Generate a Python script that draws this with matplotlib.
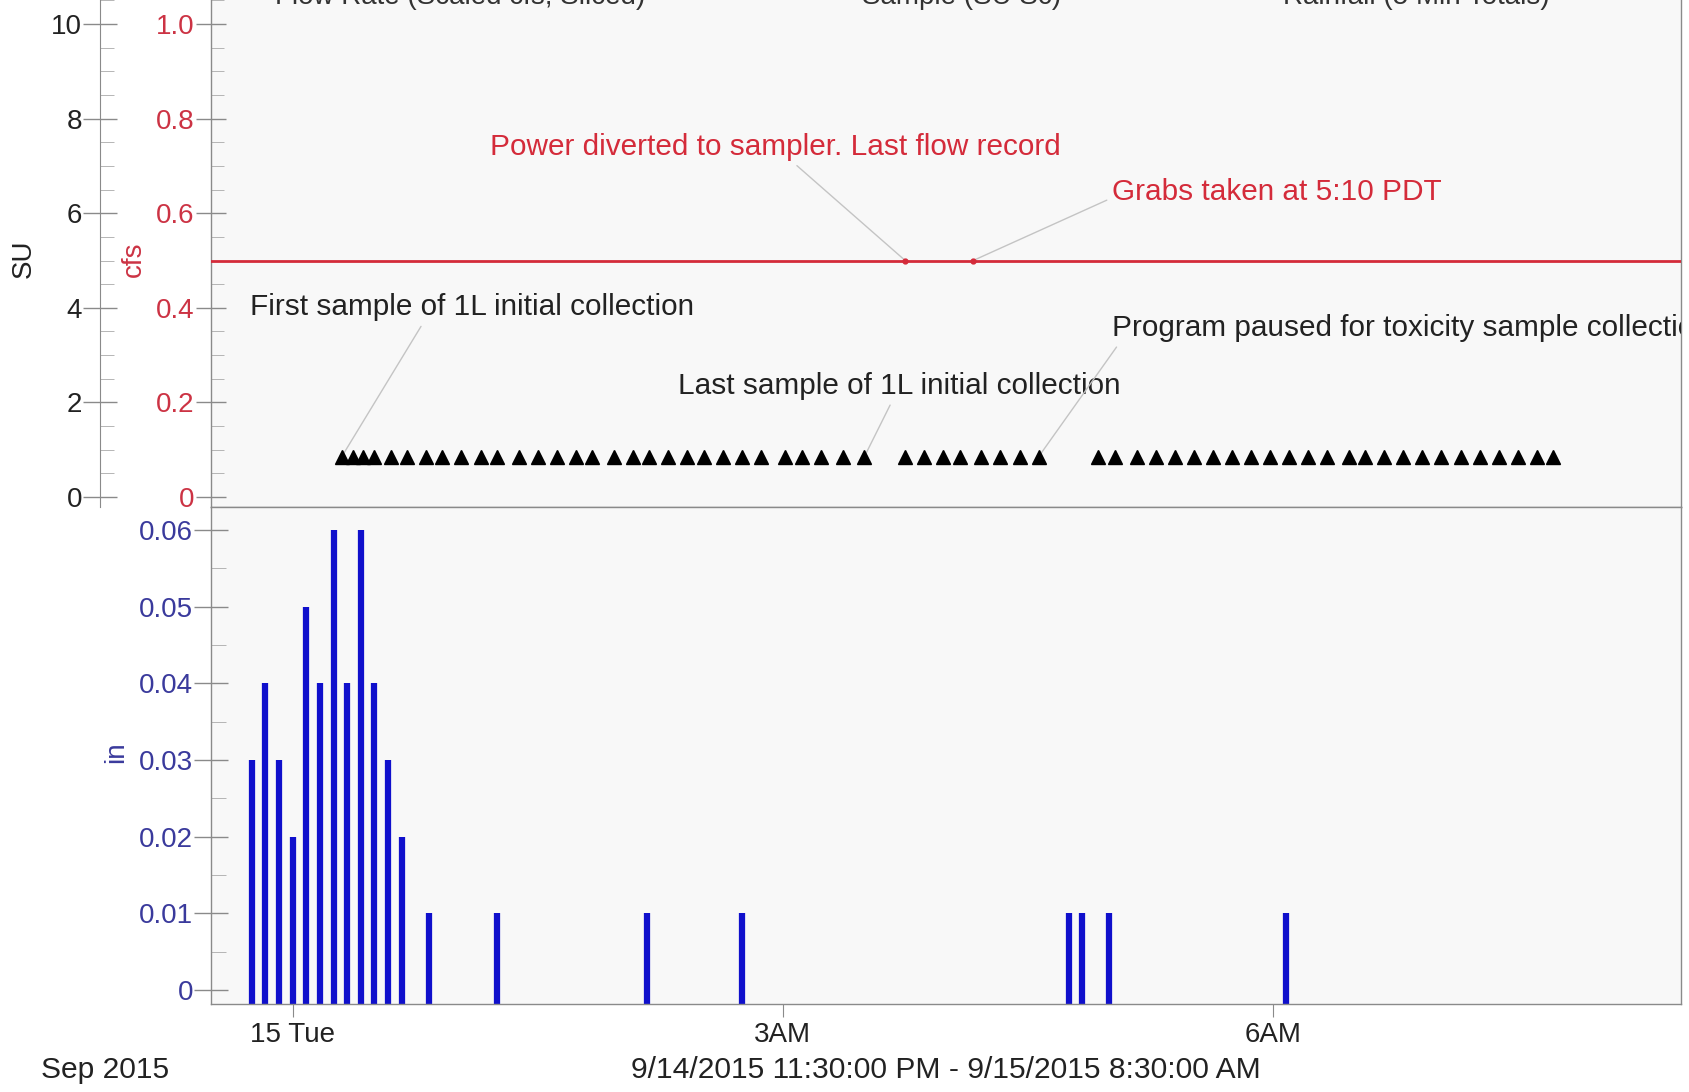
import matplotlib
matplotlib.use("Agg")
import matplotlib.pyplot as plt
import matplotlib.dates as mdates
from matplotlib.ticker import MultipleLocator, FixedLocator, FuncFormatter
import pandas as pd

plt.rcParams['font.family'] = ['Liberation Sans', 'DejaVu Sans']

# --- data (times are PDT, 9/14 evening -> 9/15 morning) ---
start = pd.Timestamp("2015-09-14 23:30")
end = pd.Timestamp("2015-09-15 08:30")

rain_times = ["23:45", "23:50", "23:55", "00:00", "00:05", "00:10", "00:15", "00:20",
              "00:25", "00:30", "00:35", "00:40", "00:50", "01:15", "02:10", "02:45",
              "04:45", "04:50", "05:00", "06:05"]
rain_in = [0.03, 0.04, 0.03, 0.02, 0.05, 0.04, 0.06, 0.04,
           0.06, 0.04, 0.03, 0.02, 0.01, 0.01, 0.01, 0.01,
           0.01, 0.01, 0.01, 0.01]

flow_times = ["23:30", "03:45", "04:10", "08:30"]
flow_cfs = [0.5, 0.5, 0.5, 0.5]
flow_marks = ["03:45", "04:10"]

sample_times = ["00:18", "00:22", "00:26", "00:30", "00:36", "00:42", "00:49", "00:55",
                "01:02", "01:09", "01:15", "01:23", "01:30", "01:37", "01:44", "01:50",
                "01:58", "02:05", "02:11", "02:18", "02:25", "02:31", "02:38", "02:45",
                "02:52", "03:01", "03:07", "03:14", "03:22", "03:30",
                "03:45", "03:52", "03:59", "04:05", "04:13", "04:20", "04:27", "04:34",
                "04:56", "05:02", "05:10", "05:17", "05:24", "05:31", "05:38", "05:45",
                "05:52", "05:59", "06:06", "06:13", "06:20", "06:28", "06:34", "06:41",
                "06:48", "06:55", "07:02", "07:09", "07:16", "07:23", "07:30", "07:37",
                "07:43"]
sample_su = 0.85

xtick_times = ["00:00", "03:00", "06:00"]


def stamp(hhmm):
    day = "2015-09-14" if int(hhmm[:2]) >= 12 else "2015-09-15"
    return pd.Timestamp(day + " " + hhmm).to_pydatetime()


def tnum(lst):
    return mdates.date2num([stamp(t) for t in lst])


RED = '#d42b3a'
BLUE = '#1010cc'
NAVY = '#3a3a9c'
GRAY = '#8a8a8a'
FS = 20
AFS = 21.4   # annotation text
FFS = 21.6   # footer text

W, H = 1690, 1092
fig = plt.figure(figsize=(W / 100, H / 100), dpi=100, facecolor='white')


def box(l, t, r, b):
    return [l / W, 1 - b / H, (r - l) / W, (b - t) / H]


ax_top = fig.add_axes(box(211, 0, 1681, 507), facecolor='#f8f8f8')
ax_su = fig.add_axes(box(211, 0, 1681, 507), sharex=ax_top)
ax_rain = fig.add_axes(box(211, 507, 1681, 1004), sharex=ax_top, facecolor='#f8f8f8')
ax_su.patch.set_visible(False)

# flow (cfs)
ax_top.plot(tnum(flow_times), flow_cfs, color=RED, lw=2, zorder=3)
ax_top.plot(tnum(flow_marks), [flow_cfs[1], flow_cfs[2]], 'o', color=RED, ms=3.5, zorder=4)
ax_top.set_ylim(-0.0211, 1.0507)
ax_top.set_xlim(mdates.date2num(start.to_pydatetime()), mdates.date2num(end.to_pydatetime()))

# samples on SU scale
sx = tnum(sample_times)
ax_su.plot(sx, [sample_su] * len(sx), '^', color='black', ms=10, ls='none', zorder=5)
ax_su.set_ylim(-0.211, 10.507)

# rainfall
rx = tnum(rain_times)
ax_rain.set_ylim(-0.00183, 0.063)
ax_rain.vlines(rx, ax_rain.get_ylim()[0], rain_in, color=BLUE, lw=4.5)

# --- spines / ticks ---
for a in (ax_top, ax_rain):
    for s in a.spines.values():
        s.set_color(GRAY)
        s.set_linewidth(1)
ax_top.spines['top'].set_visible(False)
for s in ('top', 'right', 'bottom'):
    ax_su.spines[s].set_visible(False)
ax_su.spines['left'].set_position(('outward', 111 * 0.72))
ax_su.spines['left'].set_color(GRAY)

ax_top.yaxis.set_major_locator(MultipleLocator(0.2))
ax_top.yaxis.set_minor_locator(MultipleLocator(0.05))
ax_top.yaxis.set_major_formatter(FuncFormatter(lambda v, p: '0' if abs(v) < 1e-9 else f'{v:.1f}'))
ax_top.tick_params(axis='y', which='major', direction='inout', length=22, width=1,
                   color=GRAY, labelcolor='#cc3344', labelsize=FS, pad=1)
ax_top.tick_params(axis='y', which='minor', direction='in', length=9, color='#aaaaaa')
ax_top.tick_params(axis='x', which='both', bottom=False, labelbottom=False)

ax_su.yaxis.set_major_locator(MultipleLocator(2))
ax_su.yaxis.set_minor_locator(MultipleLocator(0.5))
ax_su.tick_params(axis='y', which='major', direction='inout', length=24, width=1,
                  color=GRAY, labelcolor='#222222', labelsize=FS, pad=1)
ax_su.tick_params(axis='y', which='minor', direction='in', length=10, color='#aaaaaa')
ax_su.tick_params(axis='x', which='both', bottom=False, labelbottom=False)

ax_rain.yaxis.set_major_locator(MultipleLocator(0.01))
ax_rain.yaxis.set_minor_locator(MultipleLocator(0.005))
ax_rain.yaxis.set_major_formatter(FuncFormatter(lambda v, p: '0' if abs(v) < 1e-9 else f'{v:.2f}'))
ax_rain.tick_params(axis='y', which='major', direction='inout', length=24, width=1,
                    color=GRAY, labelcolor=NAVY, labelsize=FS, pad=1)
ax_rain.tick_params(axis='y', which='minor', direction='in', length=11, color='#aaaaaa')


def xfmt(v, p):
    d = mdates.num2date(v)
    if d.hour == 0:
        return f"{d.day} {d.strftime('%a')}"
    return f"{d.hour % 12 or 12}{'AM' if d.hour < 12 else 'PM'}"


ax_rain.xaxis.set_major_locator(FixedLocator(tnum(xtick_times)))
ax_rain.xaxis.set_major_formatter(FuncFormatter(xfmt))
ax_rain.tick_params(axis='x', which='major', direction='out', length=9, color=GRAY,
                    labelsize=FS, labelcolor='#222222', pad=4)

# --- axis labels ---
fig.text(24 / W, 1 - 259 / H, 'SU', rotation=90, ha='center', va='center', size=FS, color='#222222')
fig.text(134 / W, 1 - 259 / H, 'cfs', rotation=90, ha='center', va='center', size=FS, color='#cc3344')
fig.text(116 / W, 1 - 752 / H, 'in', rotation=90, ha='center', va='center', size=FS, color=NAVY)

# --- annotations ---
line = dict(arrowstyle='-', color='#c4c4c4', lw=1, shrinkA=2, shrinkB=0)
ax_top.annotate('Power diverted to sampler. Last flow record', xy=(tnum(flow_marks)[0], flow_cfs[1]),
                xytext=(0.190, 0.710), textcoords='axes fraction', color=RED, size=AFS,
                va='center', ha='left', arrowprops=line)
ax_top.annotate('Grabs taken at 5:10 PDT', xy=(tnum(flow_marks)[1], flow_cfs[2]),
                xytext=(0.613, 0.621), textcoords='axes fraction', color=RED, size=AFS,
                va='center', ha='left', arrowprops=dict(line, relpos=(0, 0.3)))
ax_su.annotate('First sample of 1L initial collection', xy=(sx[0], sample_su),
               xytext=(0.0265, 0.394), textcoords='axes fraction', color='#222222', size=AFS,
               va='center', ha='left', arrowprops=dict(line, relpos=(0.4, 0.2)))
ax_su.annotate('Last sample of 1L initial collection', xy=(sx[29], sample_su),
               xytext=(0.318, 0.239), textcoords='axes fraction', color='#222222', size=AFS,
               va='center', ha='left', arrowprops=line)
prog = ax_su.annotate('Program paused for toxicity sample collection', xy=(sx[37], sample_su),
                      xytext=(0.613, 0.353), textcoords='axes fraction', color='#222222', size=AFS,
                      va='center', ha='left', arrowprops=dict(line, relpos=(0.02, 0.2)))
prog.set_clip_path(ax_su.patch)
prog.set_clip_on(True)

# --- header (legend cut off at the top, as in the screenshot) and footer ---
for x0, txt in [(275, 'Flow Rate (Scaled cfs, Sliced)'), (862, 'Sample (SU Sc)'),
                (1283, 'Rainfall (5 Min Totals)')]:
    fig.text(x0 / W, 1 - 4 / H, txt, ha='left', va='baseline', size=FS, color='#333333')

fig.text(41 / W, 1 - 1070 / H, 'Sep 2015', ha='left', va='center', size=FFS, color='#222222')
rng = f"{start:%-m/%-d/%Y %-I:%M:%S %p} - {end:%-m/%-d/%Y %-I:%M:%S %p}"
fig.text(946 / W, 1 - 1070 / H, rng, ha='center', va='center', size=FFS, color='#222222')

fig.savefig('out.png', dpi=100)
